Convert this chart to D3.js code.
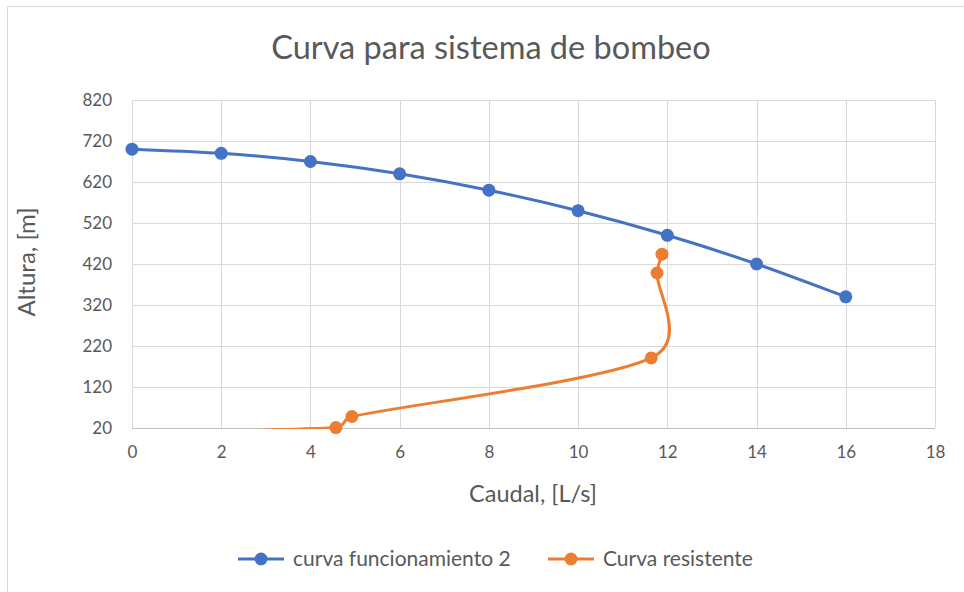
<!DOCTYPE html>
<html>
<head>
<meta charset="utf-8">
<script src="https://cdn.jsdelivr.net/npm/d3@7"></script>
<style>
  html, body { margin: 0; padding: 0; background: #fff; }
  svg { display: block; font-family: Lato, "Open Sans", sans-serif; }
</style>
</head>
<body>
<svg id="chart" width="964" height="592"></svg>
<script>
// Pump curve (curva funcionamiento 2): flow [L/s] vs head [m]
const pumpQ = [0, 2, 4, 6, 8, 10, 12, 14, 16];
const pumpH = [700, 690, 670, 640, 600, 550, 490, 420, 340];

// System resistance curve; the first point lies below the axis minimum and is clipped
const sysQ = [0, 4.57, 4.93, 11.64, 11.77, 11.88];
const sysH = [8, 21, 48, 191, 398, 444];

const xTicks = [0, 2, 4, 6, 8, 10, 12, 14, 16, 18];
const yTicks = [20, 120, 220, 320, 420, 520, 620, 720, 820];

const seriesNames = ["curva funcionamiento 2", "Curva resistente"];
const seriesColors = ["#4472c4", "#ed7d31"];

const svg = d3.select("#chart");
const W = 964, H = 592;
const plot = { left: 132, right: 935, top: 100, bottom: 428 };
const textColor = "#595959";

// outer chart frame
svg.append("rect")
  .attr("x", 7.5).attr("y", 6.5)
  .attr("width", W).attr("height", H)
  .attr("fill", "#fff").attr("stroke", "#d9d9d9").attr("stroke-width", 1);

const x = d3.scaleLinear().domain([0, 18]).range([plot.left, plot.right]);
const y = d3.scaleLinear().domain([20, 820]).range([plot.bottom, plot.top]);

// gridlines
const grid = svg.append("g");
grid.selectAll("line.h").data(yTicks.filter(v => v !== 20)).join("line")
  .attr("x1", plot.left).attr("x2", plot.right)
  .attr("y1", d => Math.round(y(d)) + 0.5).attr("y2", d => Math.round(y(d)) + 0.5)
  .attr("stroke", "#d9d9d9").attr("stroke-width", 1);
grid.selectAll("line.v").data(xTicks).join("line")
  .attr("y1", plot.top).attr("y2", plot.bottom)
  .attr("x1", d => Math.round(x(d)) + 0.5).attr("x2", d => Math.round(x(d)) + 0.5)
  .attr("stroke", "#d9d9d9").attr("stroke-width", 1);

// x axis baseline
svg.append("line")
  .attr("x1", plot.left).attr("x2", plot.right)
  .attr("y1", plot.bottom + 0.5).attr("y2", plot.bottom + 0.5)
  .attr("stroke", "#bfbfbf").attr("stroke-width", 1.2);

// tick labels via d3 axes (no domain / tick lines)
const xAxis = svg.append("g")
  .attr("transform", `translate(0,${plot.bottom})`)
  .call(d3.axisBottom(x).tickValues(xTicks).tickSize(0).tickPadding(18).tickFormat(d3.format("d")));
const yAxis = svg.append("g")
  .attr("transform", `translate(${plot.left},0)`)
  .call(d3.axisLeft(y).tickValues(yTicks).tickSize(0).tickPadding(20).tickFormat(d3.format("d")));
[xAxis, yAxis].forEach(g => {
  g.select(".domain").remove();
  g.selectAll("text").attr("fill", textColor).style("font-size", "17px")
    .style("font-family", "Lato, 'Open Sans', sans-serif");
});

// clip region = plot area (down to the baseline)
svg.append("clipPath").attr("id", "plotClip")
  .append("rect")
  .attr("x", plot.left - 10).attr("y", plot.top - 10)
  .attr("width", plot.right - plot.left + 20).attr("height", plot.bottom - plot.top + 11);

// Smoothed line: Catmull-Rom style tangents, with each Bezier handle
// limited to half of the adjacent segment so short segments do not loop.
function smoothPath(pts) {
  const P = pts.map(d => [x(d[0]), y(d[1])]);
  const n = P.length;
  const T = P.map((p, i) => {
    const a = P[Math.max(0, i - 1)], b = P[Math.min(n - 1, i + 1)];
    return [(b[0] - a[0]) / 6, (b[1] - a[1]) / 6];
  });
  const limit = (v, maxLen) => {
    const len = Math.hypot(v[0], v[1]);
    if (len <= maxLen || len === 0) return v;
    return [v[0] * maxLen / len, v[1] * maxLen / len];
  };
  const path = d3.path();
  path.moveTo(P[0][0], P[0][1]);
  for (let i = 0; i < n - 1; i++) {
    const seg = Math.hypot(P[i + 1][0] - P[i][0], P[i + 1][1] - P[i][1]);
    const o = limit(T[i], seg / 2);
    const inn = limit(T[i + 1], seg / 2);
    path.bezierCurveTo(
      P[i][0] + o[0], P[i][1] + o[1],
      P[i + 1][0] - inn[0], P[i + 1][1] - inn[1],
      P[i + 1][0], P[i + 1][1]);
  }
  return path.toString();
}

const series = [
  pumpQ.map((q, i) => [q, pumpH[i]]),
  sysQ.map((q, i) => [q, sysH[i]])
];

const marks = svg.append("g").attr("clip-path", "url(#plotClip)");
series.forEach((pts, s) => {
  marks.append("path")
    .attr("d", smoothPath(pts))
    .attr("fill", "none")
    .attr("stroke", seriesColors[s])
    .attr("stroke-width", 3)
    .attr("stroke-linecap", "round");
});

const dots = svg.append("g");
series.forEach((pts, s) => {
  dots.selectAll(null)
    .data(pts.filter(p => p[1] >= 20))
    .join("circle")
    .attr("cx", d => x(d[0])).attr("cy", d => y(d[1]))
    .attr("r", 6.5)
    .attr("fill", seriesColors[s]);
});

// title
svg.append("text")
  .attr("x", 491).attr("y", 59)
  .attr("text-anchor", "middle")
  .attr("fill", textColor)
  .style("font-size", "32.5px")
  .text("Curva para sistema de bombeo");

// axis titles
svg.append("text")
  .attr("x", 533).attr("y", 502)
  .attr("text-anchor", "middle")
  .attr("fill", textColor)
  .style("font-size", "23.5px")
  .text("Caudal, [L/s]");
svg.append("text")
  .attr("transform", "translate(35,262) rotate(-90)")
  .attr("text-anchor", "middle")
  .attr("fill", textColor)
  .style("font-size", "24px")
  .text("Altura, [m]");

// legend
const legendItems = [
  { x: 238, text: seriesNames[0], color: seriesColors[0] },
  { x: 548, text: seriesNames[1], color: seriesColors[1] }
];
const legend = svg.append("g");
legendItems.forEach(it => {
  legend.append("line")
    .attr("x1", it.x).attr("x2", it.x + 46)
    .attr("y1", 559).attr("y2", 559)
    .attr("stroke", it.color).attr("stroke-width", 3);
  legend.append("circle")
    .attr("cx", it.x + 23).attr("cy", 559).attr("r", 6.5)
    .attr("fill", it.color);
  legend.append("text")
    .attr("x", it.x + 55).attr("y", 566)
    .attr("fill", textColor)
    .style("font-size", "21px")
    .text(it.text);
});
</script>
</body>
</html>
